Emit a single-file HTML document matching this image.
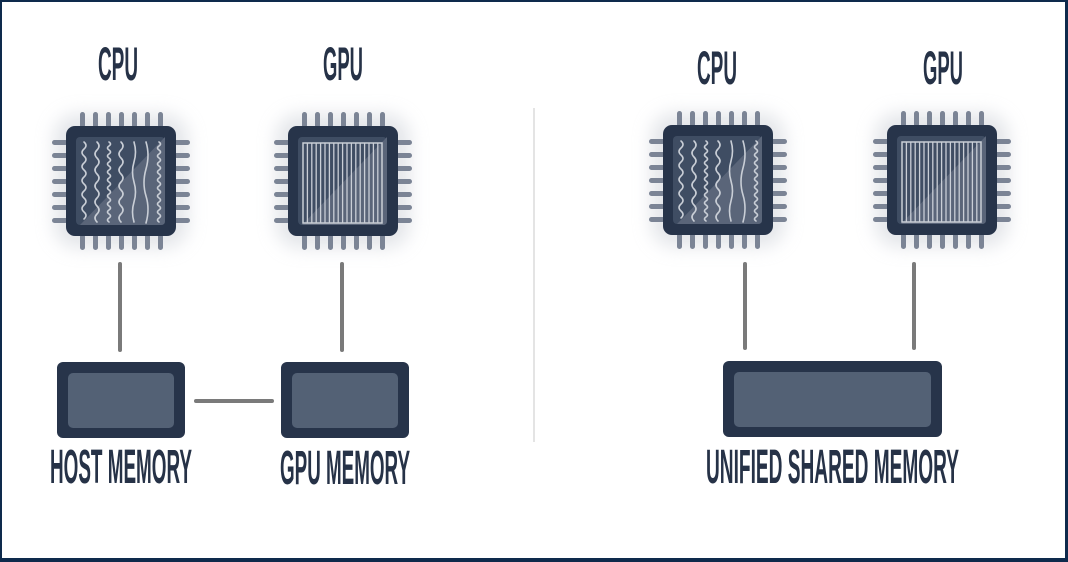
<!DOCTYPE html>
<html><head><meta charset="utf-8"><style>
html,body{margin:0;padding:0;background:#fff}
.frame{position:absolute;left:0;top:0;width:1068px;height:562px;box-sizing:border-box;border-style:solid;border-color:#0e2a4c;border-width:2px 3px 4px 2px;background:#fff}
svg{position:absolute;left:0;top:0}
text{font-family:"Liberation Sans",sans-serif;font-weight:bold;fill:#263247}
</style></head><body>
<div class="frame"></div>
<svg width="1068" height="562" viewBox="0 0 1068 562">
<defs>
<filter id="sh" x="-40%" y="-40%" width="180%" height="180%"><feGaussianBlur stdDeviation="9"/></filter>
<g id="pins" fill="#7b8495">
  <rect x="14" y="-14" width="5" height="16" rx="2.5"/><rect x="27" y="-14" width="5" height="16" rx="2.5"/><rect x="40" y="-14" width="5" height="16" rx="2.5"/><rect x="53" y="-14" width="5" height="16" rx="2.5"/><rect x="66" y="-14" width="5" height="16" rx="2.5"/><rect x="79" y="-14" width="5" height="16" rx="2.5"/><rect x="92" y="-14" width="5" height="16" rx="2.5"/>
  <rect x="14" y="108" width="5" height="16" rx="2.5"/><rect x="27" y="108" width="5" height="16" rx="2.5"/><rect x="40" y="108" width="5" height="16" rx="2.5"/><rect x="53" y="108" width="5" height="16" rx="2.5"/><rect x="66" y="108" width="5" height="16" rx="2.5"/><rect x="79" y="108" width="5" height="16" rx="2.5"/><rect x="92" y="108" width="5" height="16" rx="2.5"/>
  <rect x="-14" y="14" width="16" height="5" rx="2.5"/><rect x="-14" y="27" width="16" height="5" rx="2.5"/><rect x="-14" y="40" width="16" height="5" rx="2.5"/><rect x="-14" y="53" width="16" height="5" rx="2.5"/><rect x="-14" y="66" width="16" height="5" rx="2.5"/><rect x="-14" y="79" width="16" height="5" rx="2.5"/><rect x="-14" y="92" width="16" height="5" rx="2.5"/>
  <rect x="108" y="14" width="16" height="5" rx="2.5"/><rect x="108" y="27" width="16" height="5" rx="2.5"/><rect x="108" y="40" width="16" height="5" rx="2.5"/><rect x="108" y="53" width="16" height="5" rx="2.5"/><rect x="108" y="66" width="16" height="5" rx="2.5"/><rect x="108" y="79" width="16" height="5" rx="2.5"/><rect x="108" y="92" width="16" height="5" rx="2.5"/>
</g>
<g id="base">
  <rect x="-12" y="-12" width="134" height="134" rx="24" fill="#c8ccd4" opacity="0.5" filter="url(#sh)"/>
  <use href="#pins"/>
  <rect x="0" y="0" width="110" height="110" rx="9" fill="#27344a"/>
  <rect x="10" y="11" width="89" height="88" rx="4" fill="#3f4d63"/>
  <path d="M99 11 L99 95 Q99 99 95 99 L14 99 Z" fill="#5a6579"/>
</g>
<g id="cpu">
  <use href="#base"/>
  <g fill="none" stroke="#c9ced6" stroke-width="1.6" stroke-linecap="round">
    <path d="M18 16 q4 3.5 0 7 t0 7 t0 7 t0 7 t0 7 t0 7 t0 7 t0 7 t0 7 t0 7 t0 7"/>
    <path d="M31 16 q4 4 0 8 t0 8 t0 8 t0 8 t0 8 t0 8 t0 8 t0 8 t0 8 t0 8"/>
    <path d="M43 16 q3 2 0 4 t0 4 t0 4 t0 4 t0 4 t0 4 t0 4 t0 4 t0 4 t0 4 t0 4 t0 4 t0 4 t0 4 t0 4 t0 4 t0 4 t0 4 t0 4 t0 4"/>
    <path d="M55 16 q4 4 0 8 t0 8 t0 8 t0 8 t0 8 t0 8 t0 8 t0 8 t0 8 t0 8"/>
    <path d="M68 16 q3 10 0 20 t0 20 t0 20 t0 20"/>
    <path d="M80 16 q4 13 0 27 t0 27 t0 27"/>
    <path d="M93 16 q3 2 0 4 t0 4 t0 4 t0 4 t0 4 t0 4 t0 4 t0 4 t0 4 t0 4 t0 4 t0 4 t0 4 t0 4 t0 4 t0 4 t0 4 t0 4 t0 4 t0 4"/>
  </g>
</g>
<g id="gpu">
  <use href="#base"/>
  <rect x="15" y="17" width="79" height="80" fill="none" stroke="#c9ced6" stroke-width="1.5"/>
  <g stroke="#c9ced6" stroke-width="1.3">
    <path d="M19.4 17V97M23.8 17V97M28.2 17V97M32.6 17V97M37 17V97M41.4 17V97M45.8 17V97M50.2 17V97M54.6 17V97M59 17V97M63.4 17V97M67.8 17V97M72.2 17V97M76.6 17V97M81 17V97M85.4 17V97M89.8 17V97"/>
  </g>
</g>
</defs>

<text x="98" y="80" font-size="47" textLength="40" lengthAdjust="spacingAndGlyphs">CPU</text>
<text x="323" y="80" font-size="47" textLength="40" lengthAdjust="spacingAndGlyphs">GPU</text>
<use href="#cpu" transform="translate(66,126)"/>
<use href="#gpu" transform="translate(288,126)"/>
<g stroke="#7a7a7a" stroke-width="4" stroke-linecap="round">
  <line x1="120" y1="264" x2="120" y2="350"/>
  <line x1="342" y1="264" x2="342" y2="350"/>
  <line x1="196" y1="401" x2="272" y2="401"/>
  <line x1="745" y1="264" x2="745" y2="348"/>
  <line x1="914" y1="264" x2="914" y2="348"/>
</g>
<rect x="57" y="362" width="128" height="76" rx="6" fill="#27344a"/>
<rect x="68" y="373" width="106" height="55" rx="5" fill="#536175"/>
<rect x="281" y="362" width="128" height="76" rx="6" fill="#27344a"/>
<rect x="292" y="373" width="106" height="55" rx="5" fill="#536175"/>
<text x="50" y="483" font-size="48" textLength="142" lengthAdjust="spacingAndGlyphs">HOST MEMORY</text>
<text x="280" y="484" font-size="48" textLength="130" lengthAdjust="spacingAndGlyphs">GPU MEMORY</text>

<line x1="534" y1="108" x2="534" y2="442" stroke="#dcdcdc" stroke-width="1.5"/>

<text x="697" y="84" font-size="47" textLength="40" lengthAdjust="spacingAndGlyphs">CPU</text>
<text x="923" y="84" font-size="47" textLength="40" lengthAdjust="spacingAndGlyphs">GPU</text>
<use href="#cpu" transform="translate(663,125)"/>
<use href="#gpu" transform="translate(887,125)"/>
<rect x="723" y="361" width="219" height="76" rx="6" fill="#27344a"/>
<rect x="734" y="372" width="197" height="55" rx="5" fill="#536175"/>
<text x="706" y="483" font-size="48" textLength="253" lengthAdjust="spacingAndGlyphs">UNIFIED SHARED MEMORY</text>
</svg>
</body></html>
